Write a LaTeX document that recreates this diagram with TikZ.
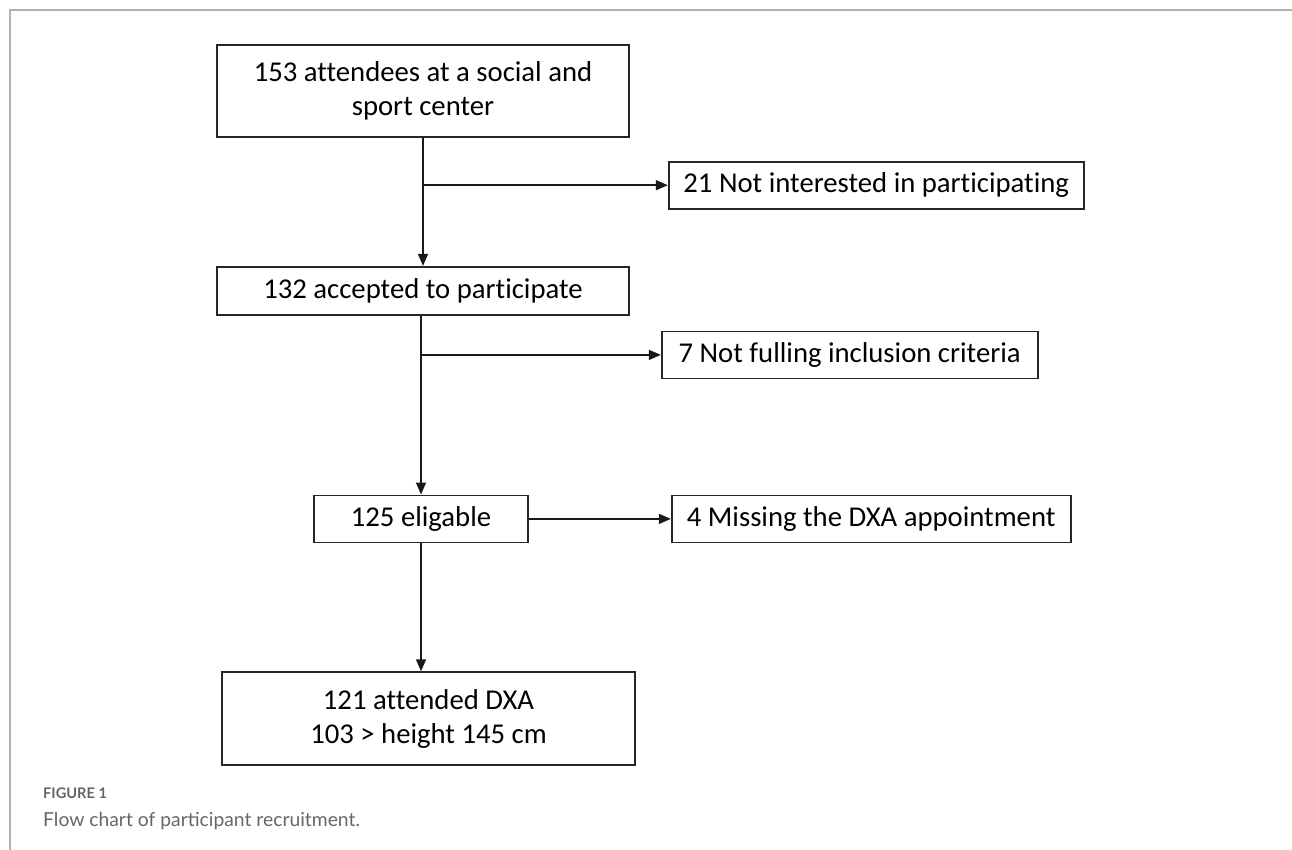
\documentclass[tikz,border=0pt]{standalone}
\usepackage{fontspec}
\setmainfont{Carlito}[Ligatures=NoCommon]
\newfontfamily\capfont{Lato}
\usetikzlibrary{arrows.meta,positioning}

\begin{document}
\begin{tikzpicture}[
    x=1pt, y=1pt,
    font=\fontsize{28.7}{34}\selectfont,
    box/.style={draw=black!85, line width=1.7pt, rectangle, align=center, inner sep=0pt},
    wide/.style={box, minimum width=412pt, minimum height=92pt},
    thin/.style={box, minimum height=47pt},
    flow/.style={-{Triangle[length=12pt,width=10pt]}, line width=1.5pt, black!90}
]
    \useasboundingbox (0,0) rectangle (1292,-850);
    \draw[black!30, line width=1.5pt] (1292,-10) -- (10,-10) -- (10,-850);

    \node[wide] (start) at (423,-91) {153 attendees at a social and\\sport center};
    \node[box, minimum width=412pt, minimum height=48pt, below=128pt of start] (accept) {132 accepted to participate};
    \node[thin, minimum width=214pt, below=179pt of accept, xshift=-2pt] (elig) {125 eligable};
    \node[wide, minimum width=413pt, minimum height=93pt, below=128pt of elig, xshift=7.5pt] (attend) {121 attended DXA\\103 > height 145 cm};

    \node[thin, minimum width=415pt, below right=23pt and 38pt of start] (notint) {21 Not interested in participating};
    \node[thin, minimum width=376pt, below right=15pt and 31pt of accept] (notinc) {7 Not fulling inclusion criteria};
    \node[thin, minimum width=399pt, right=142pt of elig] (miss) {4 Missing the DXA appointment};

    \coordinate (b1) at (start.south |- notint.west);
    \coordinate (b2) at (elig.north |- notinc.west);

    \draw[flow] (start.south) -- (accept.north);
    \draw[flow] (b1) -- (notint.west);
    \draw[flow] (accept.south -| elig.north) -- (elig.north);
    \draw[flow] (b2) -- (notinc.west);
    \draw[flow] (elig.east) -- (miss.west);
    \draw[flow] (elig.south) -- (elig.south |- attend.north);

    \node[anchor=base west, font=\capfont\bfseries\fontsize{14.6}{17}\selectfont, text=black!60, inner sep=0pt] (fig) at (43,-798) {FIGURE 1};
    \node[anchor=base west, font=\capfont\fontsize{19.3}{22}\selectfont, text=black!60, inner sep=0pt] (cap) at (43,-826) {Flow chart of participant recruitment.};
\end{tikzpicture}
\end{document}
